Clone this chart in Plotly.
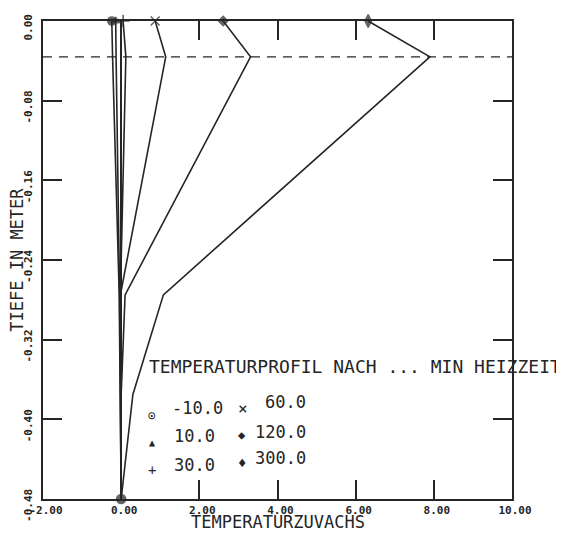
import plotly.graph_objects as go

# ---- data -------------------------------------------------------------
depth = [0.0, -0.036, -0.275, -0.375, -0.48]          # TIEFE IN METER
times = ["-10.0", "10.0", "30.0", "60.0", "120.0", "300.0"]  # MIN HEIZZEIT
dT_m10 = [-0.24, -0.22, -0.05, -0.02, 0.0]
dT_10 = [-0.14, -0.13, -0.04, -0.02, 0.0]
dT_30 = [0.05, 0.12, -0.02, 0.0, 0.0]
dT_60 = [0.87, 1.14, -0.02, 0.0, 0.0]
dT_120 = [2.61, 3.31, 0.10, 0.0, 0.0]
dT_300 = [6.32, 7.90, 1.08, 0.30, 0.0]
series = [dT_m10, dT_10, dT_30, dT_60, dT_120, dT_300]
dashed_depth = -0.036

x_tickvals = [-2, 0, 2, 4, 6, 8, 10]
x_ticktext = ["-2.00", "0.00", "2.00", "4.00", "6.00", "8.00", "10.00"]
y_tickvals = [0, -0.08, -0.16, -0.24, -0.32, -0.40, -0.48]
y_ticktext = ["0.00", "-0.08", "-0.16", "-0.24", "-0.32", "-0.40", "-0.48"]

# ---- style --------------------------------------------------------------
INK = "#252525"
MONO = "DejaVu Sans Mono"
symbols = ["circle", "triangle-up", "cross-thin", "x-thin", "diamond", "diamond-tall"]
msizes = [8, 7, 9, 9, 7, 9]

fig = go.Figure()
for i, (vals, t) in enumerate(zip(series, times)):
    sizes = [msizes[i]] + [0] * (len(vals) - 1)
    if i == 0:
        sizes[-1] = 9
    fig.add_trace(go.Scatter(
        x=vals, y=depth, mode="lines+markers", name=t, cliponaxis=False,
        line=dict(color=INK, width=1.6),
        marker=dict(symbol=symbols[i], size=sizes, color=INK,
                    line=dict(color=INK, width=1.6)),
        showlegend=False,
    ))

fig.add_shape(type="line", xref="x", yref="y", x0=-2, x1=10,
              y0=dashed_depth, y1=dashed_depth,
              line=dict(color=INK, width=1.2, dash="9px,7px"))

# legend block as text
def ann(x, y, text, size=17, anchor="left"):
    fig.add_annotation(x=x, y=y, xref="x", yref="y", text=text, showarrow=False,
                       xanchor=anchor, yanchor="middle",
                       font=dict(family=MONO, size=size, color=INK))

ann(0.66, -0.347, "TEMPERATURPROFIL NACH ... MIN HEIZZEIT", size=18)
glyphs = ["⊙", "▲", "+", "×", "◆", "♦"]
gx = [0.79, 0.79, 0.79, 3.12, 3.09, 3.09]
gy = [-0.396, -0.423, -0.451, -0.389, -0.416, -0.444]
gs = [13, 10, 14, 16, 12, 14]
tx = [1.25, 1.30, 1.30, 3.63, 3.37, 3.37]
ty = [-0.389, -0.417, -0.446, -0.383, -0.413, -0.439]
for i in range(6):
    ann(gx[i], gy[i], glyphs[i], size=gs[i], anchor="center")
    ann(tx[i], ty[i], times[i], size=17)

# axis titles
fig.add_annotation(x=0.5, y=-0.0732, xref="paper", yref="paper",
                   text="TEMPERATURZUVACHS", showarrow=False,
                   xanchor="center", yanchor="bottom",
                   font=dict(family=MONO, size=17, color=INK))
fig.add_annotation(x=-0.056, y=0.5, xref="paper", yref="paper",
                   text="TIEFE IN METER", showarrow=False, textangle=-90,
                   xanchor="center", yanchor="middle",
                   font=dict(family=MONO, size=17, color=INK))

axis_common = dict(
    showline=True, linecolor=INK, linewidth=2, mirror="ticks",
    ticks="inside", ticklen=19, tickwidth=1.6, tickcolor=INK,
    showgrid=False, automargin=False,
)

fig.update_xaxes(
    range=[-2, 10], tickvals=x_tickvals, ticktext=x_ticktext,
    zeroline=True, zerolinecolor=INK, zerolinewidth=1.5,
    ticklabelstandoff=0, ticklabelshift=3,
    tickfont=dict(family=MONO, size=11, color=INK, weight="bold"),
    **axis_common,
)
fig.update_yaxes(
    range=[-0.48, 0], tickvals=y_tickvals, ticktext=y_ticktext,
    tickangle=-90, zeroline=False,
    ticklabelstandoff=5, ticklabelshift=8,
    tickfont=dict(family=MONO, size=11, color=INK, weight="bold"),
    **axis_common,
)

# the page body keeps an 8px default margin; size the figure so the
# plot area lands where the reference has it in the 564x534 window
fig.update_layout(
    width=556, height=526,
    margin=dict(l=35, r=52, t=13, b=35),
    paper_bgcolor="white", plot_bgcolor="white",
)

fig.write_html("out.html")
